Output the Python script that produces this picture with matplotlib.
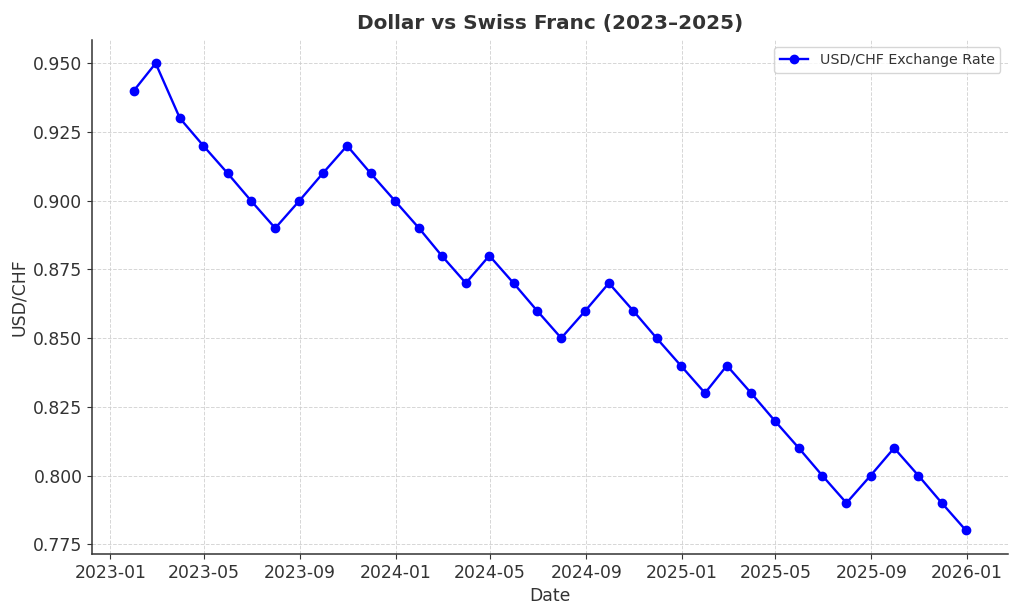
import matplotlib
matplotlib.use("Agg")
import matplotlib.pyplot as plt
import matplotlib.dates as mdates
import pandas as pd

dates = pd.date_range("2023-01-31", periods=36, freq="ME")
rates = [0.94, 0.95, 0.93, 0.92, 0.91, 0.90, 0.89, 0.90, 0.91, 0.92, 0.91, 0.90,
         0.89, 0.88, 0.87, 0.88, 0.87, 0.86, 0.85, 0.86, 0.87, 0.86, 0.85, 0.84,
         0.83, 0.84, 0.83, 0.82, 0.81, 0.80, 0.79, 0.80, 0.81, 0.80, 0.79, 0.78]

txt = "#333333"
plt.rcParams["font.family"] = ["DejaVu Sans"]
fig = plt.figure(figsize=(10.24, 6.14), dpi=100)
ax = fig.add_axes([0.09, 0.098, 0.894, 0.837])
ax.plot(dates, rates, color="blue", marker="o", markersize=6, linewidth=1.7,
        label="USD/CHF Exchange Rate")
ax.set_title("Dollar vs Swiss Franc (2023–2025)", fontsize=14.4, fontweight="bold",
             color=txt, pad=8)
ax.set_xlabel("Date", fontsize=12.4, color=txt)
ax.set_ylabel("USD/CHF", fontsize=12.4, color=txt)
ax.xaxis.set_major_locator(mdates.MonthLocator(bymonth=[1, 5, 9]))
ax.xaxis.set_major_formatter(mdates.DateFormatter("%Y-%m"))
ax.tick_params(labelsize=12.4, colors=txt)
ax.grid(True, linestyle="--", color="#cccccc", linewidth=0.7, alpha=0.8)
for s in ["top", "right"]:
    ax.spines[s].set_visible(False)
for s in ["left", "bottom"]:
    ax.spines[s].set_color(txt)
    ax.spines[s].set_linewidth(1.1)
leg = ax.legend(loc="upper right", fontsize=10.3, labelcolor=txt)
fig.savefig("out.png", dpi=100)
